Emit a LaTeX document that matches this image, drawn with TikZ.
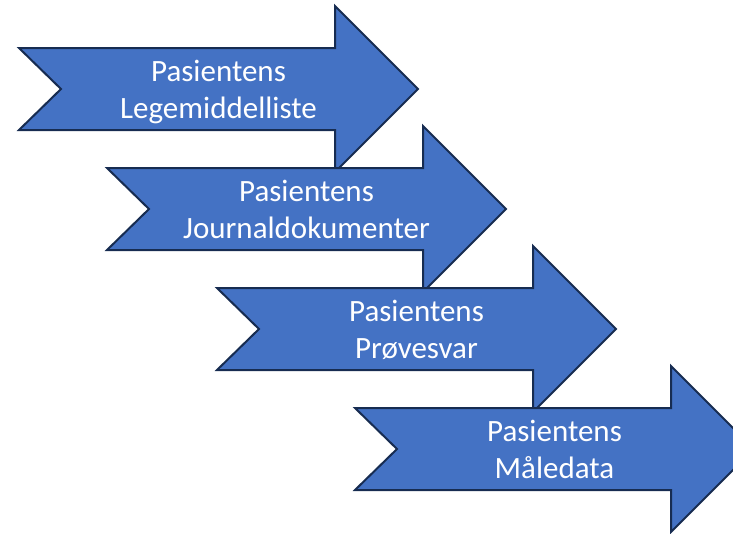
\documentclass[tikz,border=0pt]{standalone}
\usepackage{fontspec}
\setmainfont{Carlito}
\definecolor{arrowblue}{HTML}{4472C4}
\definecolor{arrowedge}{HTML}{172C51}
\tikzset{
  steparrow/.style={fill=arrowblue, draw=arrowedge, line width=2pt, line join=miter},
  steplabel/.style={text=white, align=center, inner sep=0pt, font=\fontsize{31}{37}\selectfont}
}

\begin{document}
\begin{tikzpicture}[x=1pt, y=-1pt]
    \useasboundingbox (0,0) rectangle (733,533);
    \clip (0,0) rectangle (733,533);

    % Arrow 1 (notched tail, wide head)
    \draw[steparrow] (19,48) -- ++(316,0) -- ++(0,-42) -- ++(83,83) -- ++(-83,83)
        -- ++(0,-42) -- ++(-316,0) -- ++(42,-41) -- cycle;
    \node[steplabel] (liste) at (218.5,93) {\strut Pasientens\\\strut Legemiddelliste};

    % Arrow 2
    \draw[steparrow] (107,168) -- ++(316,0) -- ++(0,-42) -- ++(83,83) -- ++(-83,83)
        -- ++(0,-42) -- ++(-316,0) -- ++(42,-41) -- cycle;
    \node[steplabel] (journal) at (306.5,213) {\strut Pasientens\\\strut Journaldokumenter};

    % Arrow 3
    \draw[steparrow] (217,288) -- ++(316,0) -- ++(0,-42) -- ++(83,83) -- ++(-83,83)
        -- ++(0,-42) -- ++(-316,0) -- ++(42,-41) -- cycle;
    \node[steplabel] (provesvar) at (416.5,333) {\strut Pasientens\\\strut Prøvesvar};

    % Arrow 4 (tip runs past the right edge)
    \draw[steparrow] (355,408) -- ++(316,0) -- ++(0,-42) -- ++(83,83) -- ++(-83,83)
        -- ++(0,-42) -- ++(-316,0) -- ++(42,-41) -- cycle;
    \node[steplabel] (maledata) at (554.5,453) {\strut Pasientens\\\strut Måledata};
\end{tikzpicture}
\end{document}
